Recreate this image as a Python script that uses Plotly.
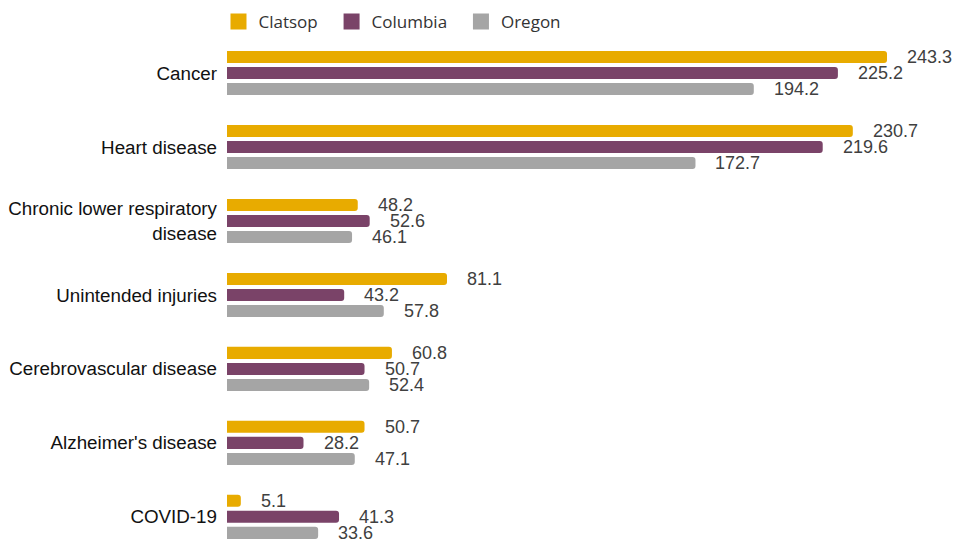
import plotly.graph_objects as go

causes = [
    "Cancer",
    "Heart disease",
    "Chronic lower respiratory<br>disease",
    "Unintended injuries",
    "Cerebrovascular disease",
    "Alzheimer's disease",
    "COVID-19",
]
clatsop = [243.3, 230.7, 48.2, 81.1, 60.8, 50.7, 5.1]
columbia = [225.2, 219.6, 52.6, 43.2, 50.7, 28.2, 41.3]
oregon = [194.2, 172.7, 46.1, 57.8, 52.4, 47.1, 33.6]

series = [
    ("Clatsop", clatsop, "#E8AB00"),
    ("Columbia", columbia, "#7A4368"),
    ("Oregon", oregon, "#A5A5A5"),
]

fig = go.Figure()
annotations = []
for i, (name, vals, color) in enumerate(series):
    fig.add_trace(go.Bar(
        name=name, y=causes, x=vals, orientation="h", showlegend=False,
        legendgroup=name,
        marker=dict(color=color, line=dict(width=0)),
    ))
    shift = (1 - i) * 16
    for cat, v in zip(causes, vals):
        annotations.append(dict(
            x=v, y=cat, xref="x", yref="y", text=f"{v:.1f}",
            showarrow=False, xanchor="left", yanchor="middle",
            xshift=18, yshift=shift,
            font=dict(family="Liberation Sans, Arial", size=18, color="#404040"),
        ))

# legend entries with larger square swatches
pad = "\u00a0\u00a0"
for name, _, color in series:
    fig.add_trace(go.Scatter(
        x=[None], y=[None], mode="markers", name=name + pad, legendgroup=name,
        marker=dict(symbol="square", size=18, color=color),
        showlegend=True, hoverinfo="skip",
    ))

fig.update_layout(
    width=954, height=542,
    margin=dict(l=227, r=0, t=36, b=0, autoexpand=False),
    paper_bgcolor="white", plot_bgcolor="white",
    barmode="group", bargap=0.35, bargroupgap=0.25, barcornerradius=3,
    showlegend=True,
    legend=dict(
        orientation="h", x=-0.0117, xanchor="left", y=1 - 4 / 542, yanchor="top",
        yref="container", font=dict(family="Open Sans", size=17, color="#333333"),
        traceorder="normal", itemsizing="trace",
    ),
    annotations=annotations,
    xaxis=dict(range=[0, 268], visible=False, showgrid=False, zeroline=False),
    yaxis=dict(
        categoryorder="array", categoryarray=causes,
        range=[6.34, -0.5], showgrid=False, zeroline=False, showline=False,
        ticks="", ticklabelstandoff=9,
        tickfont=dict(family="Liberation Sans, Arial", size=18.8, color="#111111"),
    ),
)

fig.write_html("out.html")
